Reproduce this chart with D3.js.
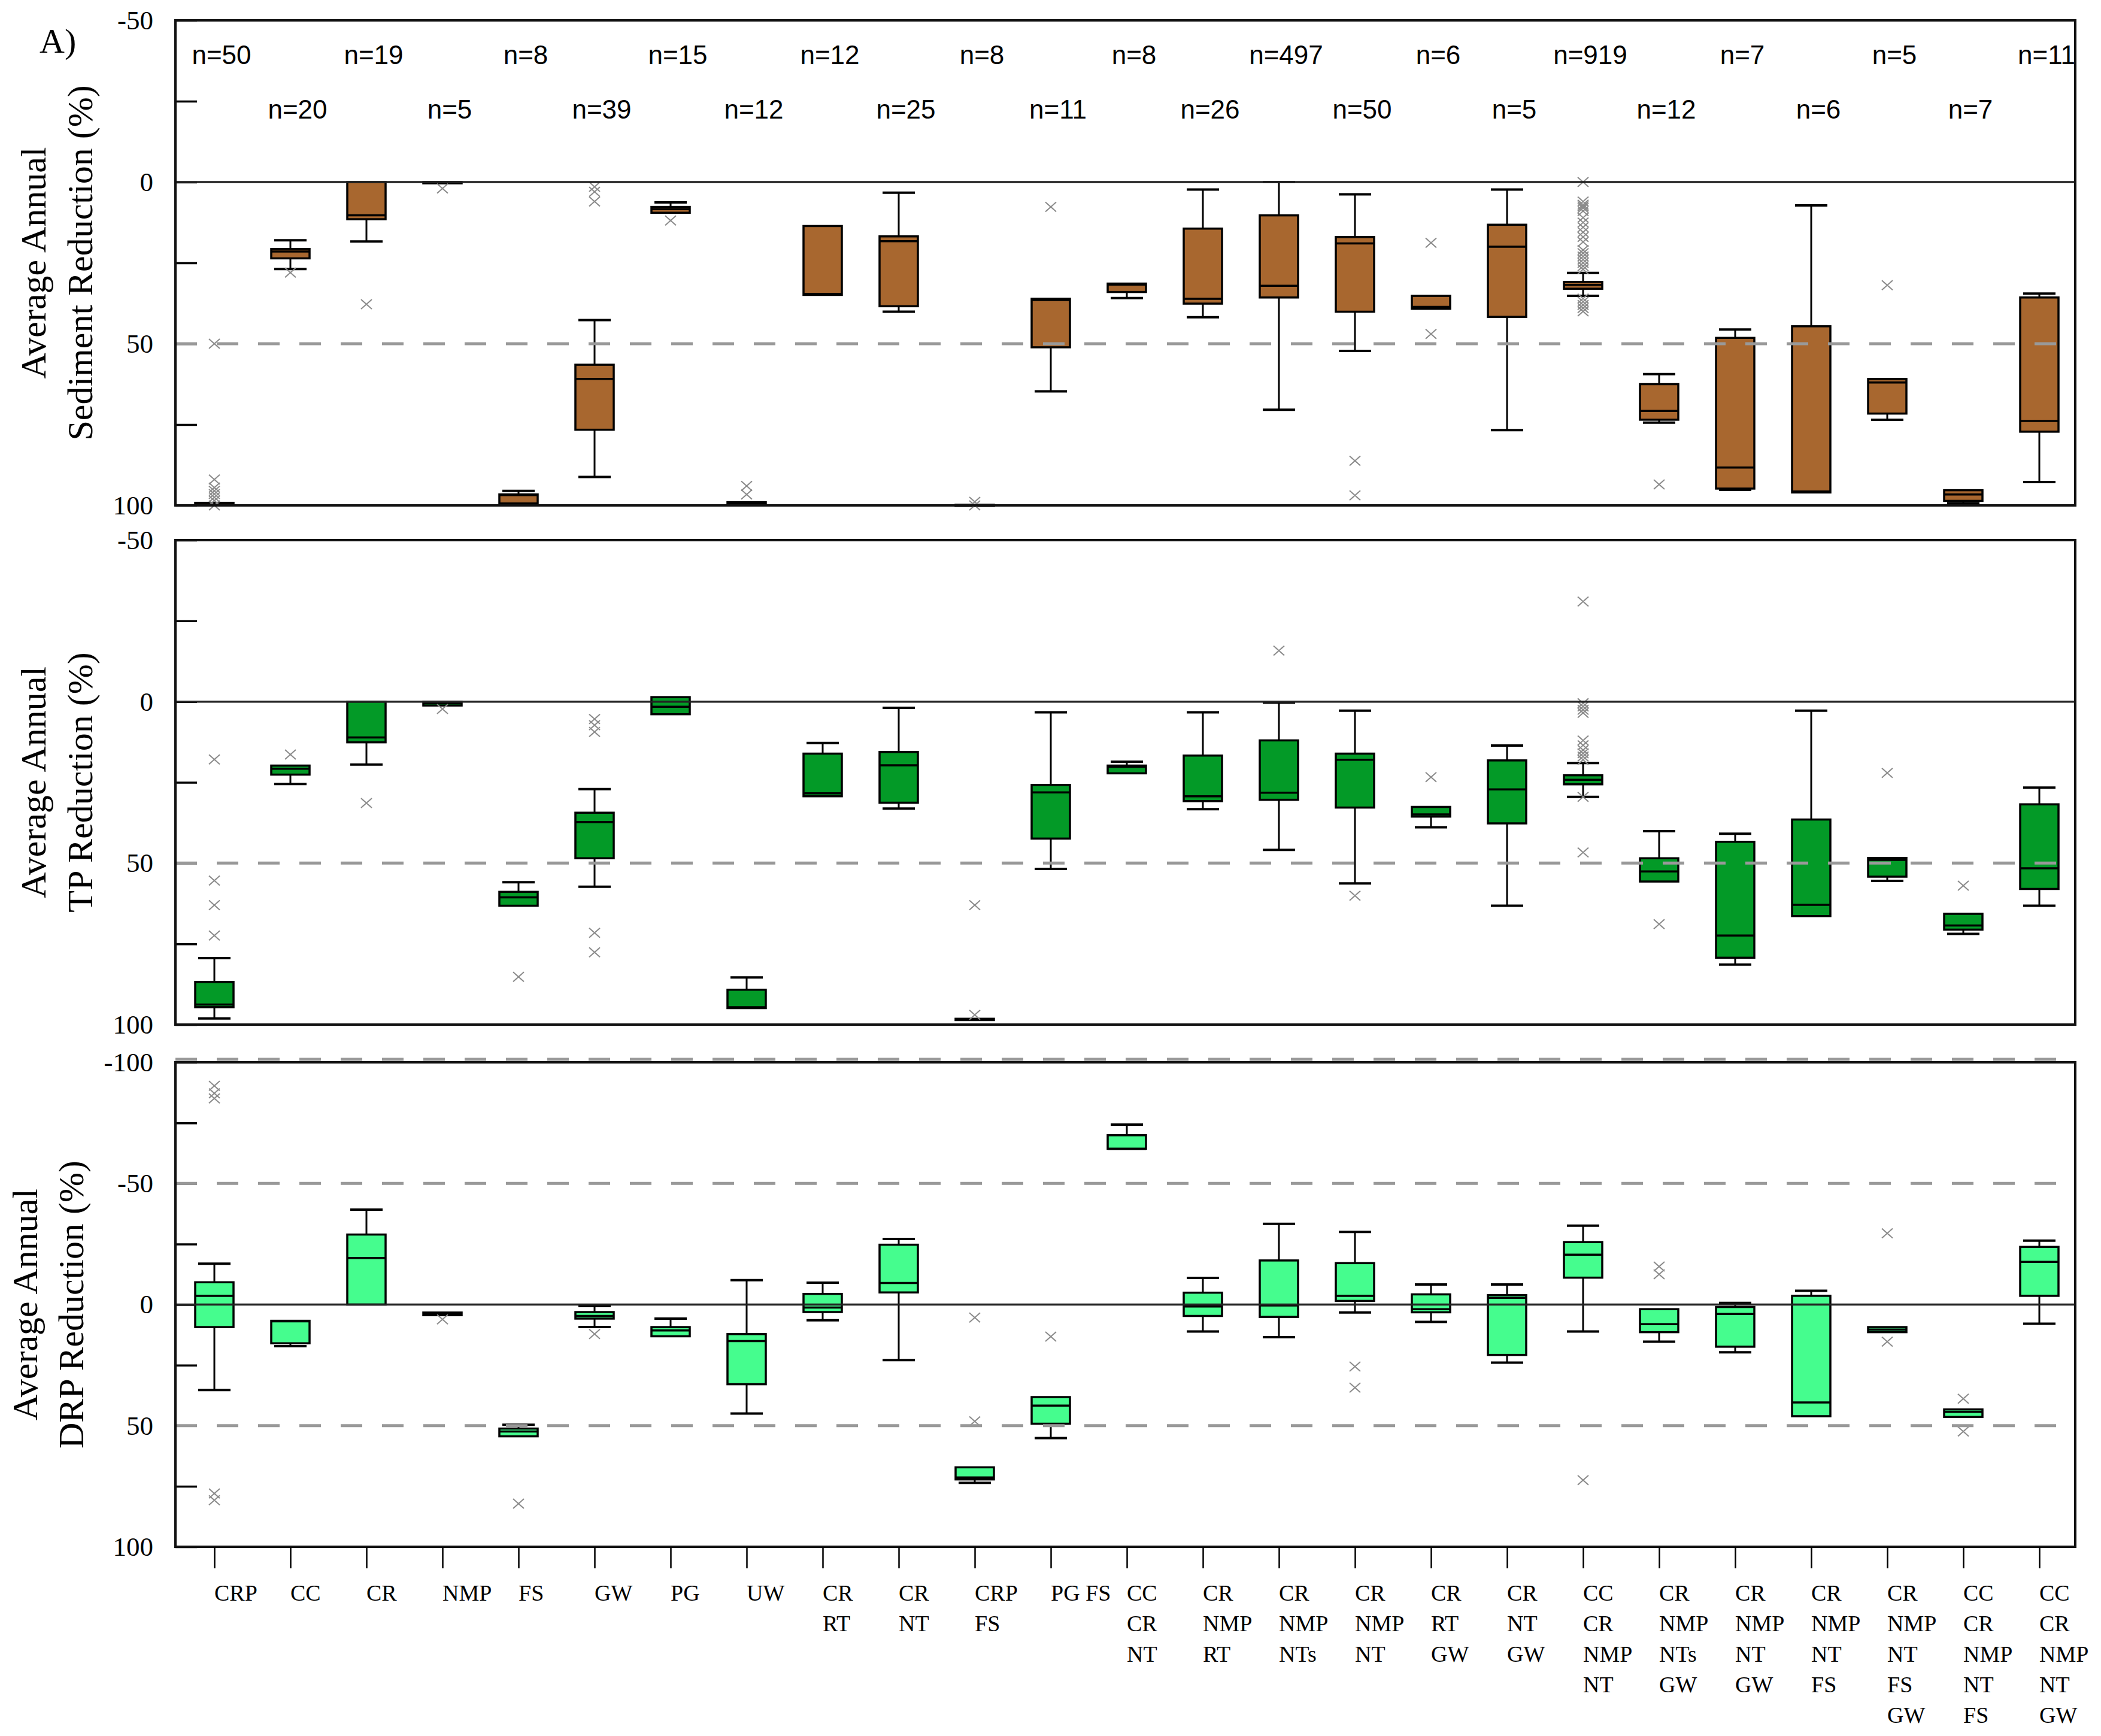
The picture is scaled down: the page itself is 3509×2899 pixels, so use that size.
<!DOCTYPE html>
<html>
<head>
<meta charset="utf-8">
<script src="https://cdn.jsdelivr.net/npm/d3@7"></script>
<style>
  body { margin: 0; background: #fff; }
</style>
</head>
<body>
<div id="chart"></div>
<script>
// categories ("\n" = line break in the axis label)
const categories = [
  "CRP", "CC", "CR", "NMP", "FS", "GW", "PG", "UW",
  "CR\nRT", "CR\nNT", "CRP\nFS", "PG FS", "CC\nCR\nNT",
  "CR\nNMP\nRT", "CR\nNMP\nNTs", "CR\nNMP\nNT", "CR\nRT\nGW", "CR\nNT\nGW",
  "CC\nCR\nNMP\nNT", "CR\nNMP\nNTs\nGW", "CR\nNMP\nNT\nGW", "CR\nNMP\nNT\nFS",
  "CR\nNMP\nNT\nFS\nGW", "CC\nCR\nNMP\nNT\nFS", "CC\nCR\nNMP\nNT\nGW"
];
const nCounts = [50, 20, 19, 5, 8, 39, 15, 12, 12, 25, 8, 11, 8, 26, 497, 50, 6, 5, 919, 12, 7, 6, 5, 7, 11];

// [lower whisker, q1, median, q3, upper whisker]  (null = no whisker)
const sedStats = [
  [null, 99.2, 99.8, 100, null], [18, 20.7, 21.5, 23.6, 26.9], [null, 0, 10.3, 11.5, 18.4],
  [null, 0, 0, 0.4, null], [95.5, 96.6, 96.8, 99.4, null], [42.7, 56.5, 60.9, 76.6, 91.2],
  [6.3, 7.7, 8.4, 9.5, null], [null, 99, 99.6, 100, null], [null, 13.6, 34.6, 34.9, null],
  [3.3, 16.8, 18.3, 38.4, 40.1], [null, 99.8, 100, 100, null], [null, 36.1, 36.5, 51.1, 64.7],
  [null, 31.4, 31.7, 34, 35.9], [2.3, 14.4, 36.1, 37.6, 41.8], [0, 10.3, 32.1, 35.7, 70.4],
  [3.8, 17, 19, 40.1, 52.2], [null, 35.2, 38.6, 39.2, null], [2.3, 13.2, 20, 41.7, 76.7],
  [28.1, 30.9, 31.8, 33, 35.2], [59.4, 62.5, 70.8, 73.5, 74.4], [45.6, 48.2, 88.3, 94.8, 95.2],
  [7.2, 44.6, 95.7, 96, null], [null, 60.9, 62, 71.6, 73.5], [null, 95.3, 96.6, 98.6, 99.3],
  [34.5, 35.7, 73.9, 77.2, 92.8]
];
const sedOutliers = [
  [50, 92, 94.5, 95.5, 96.5, 97.5, 98.5, 100], [28], [37.8], [2], [], [1.5, 3, 6], [11.9],
  [94, 96.6], [], [], [98.9, 100], [7.7], [], [], [], [86.2, 96.9], [18.8, 47], [],
  [0, 6, 7, 7.5, 8, 9, 11, 12.5, 14, 15.5, 17, 18.5, 21, 22, 23, 24, 25, 26, 27, 36, 37, 38, 39, 40],
  [93.5], [], [], [31.9], [], []
];

const tpStats = [
  [79.4, 86.8, 93.8, 94.6, 98.1], [null, 19.8, 20.8, 22.6, 25.5], [null, 0, 11.1, 12.6, 19.5],
  [null, 0, 0.5, 1.2, null], [55.9, 58.9, 60.6, 63.2, null], [27.1, 34.4, 37.3, 48.5, 57.3],
  [null, -1.4, 1.6, 3.9, null], [85.4, 89.2, 94.6, 94.9, null], [12.8, 16.1, 28.4, 29.3, null],
  [1.9, 15.6, 19.7, 31.3, 33.1], [null, 98.2, 98.4, 98.6, null], [3.3, 25.8, 28.1, 42.4, 51.8],
  [18.6, 19.8, 20.2, 22.2, null], [3.3, 16.7, 29.3, 30.8, 33.3], [0.3, 12, 28.2, 30.4, 45.9],
  [2.8, 16.1, 18, 32.8, 56.3], [null, 32.6, 34.9, 35.6, 38.9], [13.6, 18.2, 27.2, 37.7, 63.2],
  [19, 22.8, 24.2, 25.6, 29.5], [40.1, 48.5, 52.6, 55.7, null], [40.9, 43.4, 72.4, 79.3, 81.4],
  [2.8, 36.5, 62.9, 66.4, null], [null, 48.4, 49, 54.2, 55.5], [null, 65.7, 69.3, 70.6, 71.9],
  [26.6, 31.8, 51.6, 58, 63.2]
];
const tpOutliers = [
  [17.9, 55.4, 63, 72.4], [16.4], [31.4], [2.3], [85.2], [5.4, 7.3, 9.4, 71.6, 77.6], [],
  [], [], [], [63, 97], [], [], [], [-15.8], [60.1], [23.4], [],
  [-31, 0.5, 1.5, 2.5, 3.5, 12, 13.5, 15, 16, 17, 18, 29.5, 46.7],
  [68.9], [], [], [22.1], [57], []
];

const drpStats = [
  [-16.9, -9.2, -3.6, 9.3, 35.3], [null, 6.7, 6.9, 16, 17.2], [-39.2, -28.9, -19.2, 0, null],
  [null, 3.3, 3.9, 4.4, null], [49.6, 51.2, 52.4, 54.4, null], [0.6, 3.1, 4.7, 5.8, 9.3],
  [5.8, 9.3, 10.7, 13.1, null], [-10.1, 12.2, 15.1, 32.9, 45], [-9, -4.4, 1.25, 3.1, 6.5],
  [-27.1, -24.7, -8.9, -5, 22.9], [null, 67.2, 71.4, 72.2, 73.6], [null, 38.2, 41.7, 49.2, 55.1],
  [-74.3, -69.9, -64.3, -64.3, null], [-11, -4.9, 0.8, 4.7, 11.1], [-33.3, -18.2, 0.4, 5.1, 13.5],
  [-30, -17.1, -3.6, -1.5, 3.3], [-8.3, -4.2, 1.9, 3.2, 7.2], [-8.3, -3.9, -2.8, 20.8, 24],
  [-32.6, -25.8, -20.6, -11.1, 11.1], [null, 1.9, 8.1, 11.4, 15.3], [-0.7, 1, 3.9, 17.4, 19.7],
  [-5.7, -3.6, 40.4, 46.1, null], [null, 9.3, 10.3, 11.4, null], [null, 43.3, 44.3, 46.4, null],
  [-26.4, -23.8, -17.6, -3.6, 7.9]
];
const drpOutliers = [
  [-90.3, -87.2, -85.1, 78, 80.8], [], [], [6.1], [82.2], [12.2], [], [], [], [],
  [5.4, 48.2], [13.2], [], [], [], [25.6, 34.3], [], [], [72.5], [-15.7, -12.5], [], [],
  [-29.4, 15.3], [38.9, 52.4], []
];

const W = 3509, H = 2899;
const plotLeft = 293, plotRight = 3466;
const boxW = 64, capW = 54;

const svg = d3.select("#chart").append("svg")
  .attr("width", W)
  .attr("height", H);
svg.append("rect").attr("width", W).attr("height", H).attr("fill", "#fff");

const x = d3.scalePoint().domain(categories).range([358, 3406]);

const panels = [
  { stats: sedStats, outliers: sedOutliers, fill: "#a8672f", top: 34, bottom: 844,
    domain: [-50, 100], ticks: [-50, -25, 0, 25, 50, 75, 100], dashed: [50],
    title: ["Average Annual", "Sediment Reduction (%)"], titleX: [56, 134] },
  { stats: tpStats, outliers: tpOutliers, fill: "#039a27", top: 902, bottom: 1711,
    domain: [-50, 100], ticks: [-50, -25, 0, 25, 50, 75, 100], dashed: [50],
    title: ["Average Annual", "TP Reduction (%)"], titleX: [56, 134] },
  { stats: drpStats, outliers: drpOutliers, fill: "#45fd8e", top: 1774, bottom: 2583,
    domain: [-100, 100], ticks: [-100, -75, -50, -25, 0, 25, 50, 75, 100], dashed: [-100, -50, 50],
    title: ["Average Annual", "DRP Reduction (%)"], titleX: [42, 119] }
];

panels.forEach(p => {
  const y = d3.scaleLinear().domain(p.domain).range([p.top, p.bottom]);
  const g = svg.append("g");

  // y axis: inward ticks, labels on multiples of 50
  const axis = g.append("g")
    .attr("transform", `translate(${plotLeft},0)`)
    .call(d3.axisLeft(y)
      .tickValues(p.ticks)
      .tickSize(-36)
      .tickPadding(37)
      .tickFormat(d => d % 50 === 0 ? d : ""));
  axis.select(".domain").remove();
  axis.selectAll(".tick line").attr("stroke", "#000").attr("stroke-width", 3.5);
  axis.selectAll(".tick text")
    .attr("font-family", "Liberation Serif, serif")
    .attr("font-size", 45)
    .attr("fill", "#000");

  // axis title
  const midY = (p.top + p.bottom) / 2;
  p.title.forEach((t, k) => {
    g.append("text")
      .attr("transform", `translate(${p.titleX[k] + 20},${midY}) rotate(-90)`)
      .attr("text-anchor", "middle")
      .attr("font-family", "Liberation Serif, serif")
      .attr("font-size", 60)
      .attr("fill", "#000")
      .text(t);
  });

  // boxes
  const items = g.append("g").selectAll("g")
    .data(categories.map((c, i) => ({ c, s: p.stats[i], o: p.outliers[i] })))
    .enter().append("g");

  items.each(function(d) {
    const el = d3.select(this);
    const cx = x(d.c);
    const [lo, q1, med, q3, hi] = d.s;
    const line = (x1, y1, x2, y2, w) => el.append("line")
      .attr("x1", x1).attr("y1", y1).attr("x2", x2).attr("y2", y2)
      .attr("stroke", "#000").attr("stroke-width", w);
    if (lo !== null) {
      line(cx, y(lo), cx, y(q1), 3);
      line(cx - capW / 2, y(lo), cx + capW / 2, y(lo), 4);
    }
    if (hi !== null) {
      line(cx, y(q3), cx, y(hi), 3);
      line(cx - capW / 2, y(hi), cx + capW / 2, y(hi), 4);
    }
    el.append("rect")
      .attr("x", cx - boxW / 2)
      .attr("y", y(q1))
      .attr("width", boxW)
      .attr("height", Math.max(y(q3) - y(q1), 2))
      .attr("fill", p.fill)
      .attr("stroke", "#000")
      .attr("stroke-width", 3.5);
    line(cx - boxW / 2, y(med), cx + boxW / 2, y(med), 3.5);
  });

  // reference lines on top of the boxes
  p.dashed.forEach(v => {
    g.append("line")
      .attr("x1", plotLeft).attr("x2", plotRight)
      .attr("y1", y(v) - (v === p.domain[0] ? 5 : 0))
      .attr("y2", y(v) - (v === p.domain[0] ? 5 : 0))
      .attr("stroke", "#999").attr("stroke-width", 5)
      .attr("stroke-dasharray", "36 33");
  });
  g.append("line")
    .attr("x1", plotLeft).attr("x2", plotRight)
    .attr("y1", y(0)).attr("y2", y(0))
    .attr("stroke", "#222").attr("stroke-width", 3.5);

  // outliers
  items.each(function(d) {
    const cx = x(d.c);
    d3.select(this).selectAll("path.out")
      .data(d.o)
      .enter().append("path")
      .attr("class", "out")
      .attr("d", v => `M${cx - 9},${y(v) - 8}L${cx + 9},${y(v) + 8}M${cx - 9},${y(v) + 8}L${cx + 9},${y(v) - 8}`)
      .attr("stroke", "#8a8a8a")
      .attr("stroke-width", 2)
      .attr("fill", "none");
  });

  // frame
  g.append("rect")
    .attr("x", plotLeft).attr("y", p.top)
    .attr("width", plotRight - plotLeft).attr("height", p.bottom - p.top)
    .attr("fill", "none").attr("stroke", "#111").attr("stroke-width", 4);
});

// sample sizes in the top panel (two staggered rows)
svg.append("g").selectAll("text")
  .data(categories.map((c, i) => ({ c, n: nCounts[i], i })))
  .enter().append("text")
  .attr("x", d => x(d.c) + 12)
  .attr("y", d => d.i % 2 === 0 ? 107 : 198)
  .attr("text-anchor", "middle")
  .attr("font-family", "Liberation Sans, Arial, sans-serif")
  .attr("font-size", 44)
  .attr("fill", "#000")
  .text(d => `n=${d.n}`);

// panel letter
svg.append("text")
  .attr("x", 66).attr("y", 88)
  .attr("font-family", "Liberation Serif, serif")
  .attr("font-size", 58)
  .text("A)");

// x axis below the bottom panel
const xAxis = svg.append("g")
  .attr("transform", "translate(0,2583)")
  .call(d3.axisBottom(x).tickSize(36).tickFormat(""));
xAxis.select(".domain").remove();
xAxis.selectAll(".tick line").attr("stroke", "#000").attr("stroke-width", 2.5);

const xLabels = svg.append("g").selectAll("text")
  .data(categories)
  .enter().append("text")
  .attr("x", d => x(d))
  .attr("y", 2673)
  .attr("font-family", "Liberation Serif, serif")
  .attr("font-size", 38)
  .attr("fill", "#000");
xLabels.selectAll("tspan")
  .data(d => d.split("\n"))
  .enter().append("tspan")
  .attr("x", function() { return d3.select(this.parentNode).attr("x"); })
  .attr("dy", (d, k) => k === 0 ? 0 : 51)
  .text(d => d);
</script>
</body>
</html>
